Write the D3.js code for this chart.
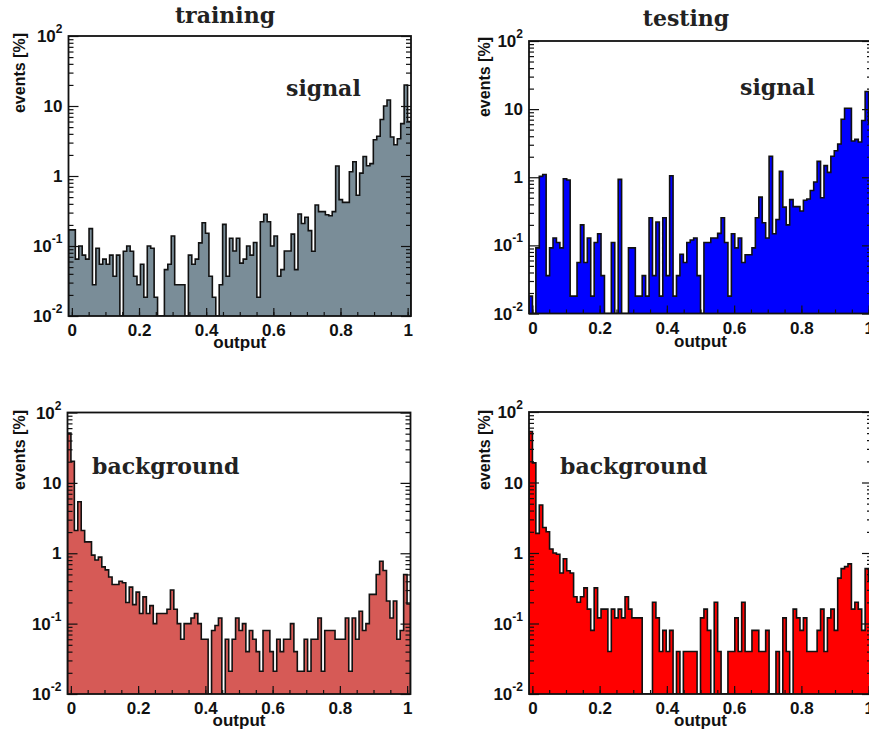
<!DOCTYPE html>
<html><head><meta charset="utf-8">
<script src="https://cdn.jsdelivr.net/npm/d3@7"></script>
<style>body{margin:0;background:#fff}</style>
</head><body>
<svg id="c" width="869" height="734"></svg>
<script>
// ---- data (percent of events per bin, 100 bins over the output range) ----
const trainSignal = [0.17,0.17,0.065,0.1,0.074,0.065,0.177,0.028,0.093,0.055,
 0.065,0.055,0.074,0.037,0.074,0,0.084,0.1,0.084,0.037,
 0.028,0.055,0.0185,0.1,0.093,0.0185,0,0,0.046,0.055,
 0.139,0.028,0.028,0.028,0,0.074,0.055,0.065,0.111,0.215,
 0.152,0.037,0.0185,0,0.028,0.204,0.037,0.129,0.085,0.129,
 0.057,0.065,0.1,0.074,0.112,0.0185,0.222,0.284,0.222,0.1,
 0.139,0.037,0.046,0.085,0.085,0.148,0.046,0.286,0.21,0.257,
 0.166,0.084,0.385,0.31,0.31,0.28,0.27,0.31,1.39,0.46,
 0.42,0.42,1.15,1.6,0.53,1.1,1.9,1.4,1.5,3.3,
 3.7,6.4,10,12.2,3.6,2.8,3.4,5.6,20,6];
const testSignal = [0.018,0,0.092,1.03,1.1,0.036,0.092,0.128,0.11,0.092,
 0.95,0.91,0.018,0.018,0.056,0.2,0.056,0.128,0.018,0.11,
 0.148,0.036,0,0,0.11,0,0.93,0,0,0.092,
 0.092,0.018,0.018,0.036,0.018,0.254,0.036,0.22,0.018,0.254,
 0.036,1.05,0.018,0.036,0.074,0.056,0.11,0.12,0.128,0.036,
 0,0.11,0.11,0.128,0.128,0.15,0.254,0.11,0.018,0.148,
 0.092,0.128,0.056,0.073,0.073,0.092,0.254,0.51,0.215,0.128,
 2.03,0.148,0.24,1.22,0.364,0.2,0.47,0.37,0.37,0.32,
 0.46,0.48,0.64,0.85,1.71,0.5,1.48,1.18,2.03,2.45,
 3.07,7.1,10.3,10.3,3.4,3.6,3.3,6.8,18.1,6.2];
const trainBackground = [51,20.3,2.1,5.4,2.1,1.45,1.45,0.94,0.8,0.88,
 0.64,0.58,0.46,0.36,0.36,0.4,0.38,0.2,0.33,0.186,
 0.28,0.139,0.24,0.139,0.18,0.1,0.139,0.139,0.139,0.16,
 0.3,0.16,0.1,0.06,0.1,0.1,0.12,0.139,0.1,0.06,
 0.06,0,0.08,0.094,0.12,0,0.06,0.021,0.06,0.12,
 0.08,0.1,0.04,0.08,0.06,0.04,0.021,0.08,0.08,0.04,
 0.021,0.06,0.04,0.06,0.06,0.1,0.04,0.021,0.021,0.06,
 0.021,0.06,0.06,0.12,0.021,0.08,0.08,0.08,0.06,0.06,
 0.06,0.12,0.021,0.12,0.06,0.15,0.08,0.1,0.26,0.26,
 0.5,0.77,0.57,0.21,0.12,0.21,0.06,0.08,0.5,0.19];
const testBackground = [53,19,1.9,4.8,2.3,2.0,1.14,1.0,0.96,0.52,
 0.83,0.56,0.52,0.24,0.2,0.24,0.32,0.16,0.08,0.32,
 0.12,0.16,0.16,0.04,0.16,0.12,0.16,0.12,0.24,0.16,
 0.12,0.12,0.12,0,0,0,0.2,0.12,0.04,0.08,
 0.04,0.08,0,0.04,0,0.04,0.04,0.04,0.04,0,
 0.12,0.16,0.08,0,0.2,0.04,0,0,0.04,0.04,
 0.12,0.04,0.2,0.04,0.04,0.08,0.08,0.04,0.04,0.08,
 0,0,0.04,0,0.12,0.04,0,0.16,0.12,0.08,
 0.12,0.04,0.04,0.04,0.08,0.16,0.04,0.12,0.16,0.08,
 0.44,0.6,0.64,0.7,0.16,0.2,0.16,0.08,0.6,0.4];
const xTicks = [0,0.2,0.4,0.6,0.8,1];
const xMinorTicks = d3.range(0,21).map(k=>k*0.05);
const yTicks = [0.01,0.1,1,10,100];
const yLabelParts = {0.01:["10","-2"],0.1:["10","-1"],1:["1",""],10:["10",""],100:["10","2"]};
const columnTitles = ["training","testing"];
const rowLabels = ["signal","background"];
const xTitle = "output";
const yTitle = "events [%]";

// ---- layout ----
const xDomain = [-0.01, 1.01];
const yDomain = [0.01, 100];
const panels = [
 {data:trainSignal, fill:"#7a8d98", left:68.5, right:411, top:36, bottom:316, tag:rowLabels[0], tagX:286, tagY:96, ytx:25, yte:33, xtY:348},
 {data:testSignal, fill:"#0000ff", left:529, right:872, top:41, bottom:313.5, tag:rowLabels[0], tagX:740, tagY:95, ytx:490, yte:37, xtY:347},
 {data:trainBackground, fill:"#d65a56", left:67.5, right:410.5, top:412.5, bottom:694, tag:rowLabels[1], tagX:92, tagY:474, ytx:25, yte:410, xtY:726},
 {data:testBackground, fill:"#ff0000", left:529, right:872, top:412, bottom:694, tag:rowLabels[1], tagX:560, tagY:474, ytx:490, yte:410, xtY:726}
];

const svg = d3.select("#c");
const sans = "'Liberation Sans', Arial, sans-serif";
const serif = "'DejaVu Serif', serif";

svg.append("text").attr("x",225).attr("y",23).attr("text-anchor","middle")
  .attr("font-family",serif).attr("font-weight","bold").attr("font-size",22).attr("fill","#222").text(columnTitles[0]);
svg.append("text").attr("x",686).attr("y",26).attr("text-anchor","middle")
  .attr("font-family",serif).attr("font-weight","bold").attr("font-size",22).attr("fill","#222").text(columnTitles[1]);

const minorY = [];
[0.01,0.1,1,10].forEach(d=>{for(let k=2;k<=9;k++) minorY.push(d*k);});

panels.forEach((p,pi)=>{
  const x = d3.scaleLinear().domain(xDomain).range([p.left,p.right]);
  const y = d3.scaleLog().domain(yDomain).range([p.bottom,p.top]).clamp(true);
  const g = svg.append("g");
  const clipId = "clip"+pi;
  g.append("clipPath").attr("id",clipId).append("rect")
    .attr("x",p.left).attr("y",p.top).attr("width",p.right-p.left).attr("height",p.bottom-p.top);

  const n = p.data.length;
  const bw = (xDomain[1]-xDomain[0])/n;
  const pts = [[xDomain[0], yDomain[0]]];
  p.data.forEach((v,i)=>{
    const vv = v>0 ? v : yDomain[0];
    pts.push([xDomain[0]+i*bw, vv]);
    pts.push([xDomain[0]+(i+1)*bw, vv]);
  });
  pts.push([xDomain[1], yDomain[0]]);
  const line = d3.line().x(d=>x(d[0])).y(d=>y(d[1]));
  g.append("path").attr("d",line(pts)+"Z").attr("fill",p.fill).attr("stroke","none").attr("clip-path",`url(#${clipId})`);
  g.append("path").attr("d",line(pts)).attr("fill","none").attr("stroke","#111").attr("stroke-width",1.6).attr("clip-path",`url(#${clipId})`);

  // axes
  const axL = g.append("g").attr("transform",`translate(${p.left},0)`)
    .call(d3.axisLeft(y).tickValues(yTicks).tickSizeInner(-10).tickSizeOuter(0).tickPadding(6).tickFormat(""));
  const axLm = g.append("g").attr("transform",`translate(${p.left},0)`)
    .call(d3.axisLeft(y).tickValues(minorY).tickSizeInner(-5).tickSizeOuter(0).tickFormat(""));
  const axR = g.append("g").attr("transform",`translate(${p.right},0)`)
    .call(d3.axisRight(y).tickValues(yTicks).tickSizeInner(-10).tickSizeOuter(0).tickFormat(""));
  const axRm = g.append("g").attr("transform",`translate(${p.right},0)`)
    .call(d3.axisRight(y).tickValues(minorY).tickSizeInner(-5).tickSizeOuter(0).tickFormat(""));
  const axB = g.append("g").attr("transform",`translate(0,${p.bottom})`)
    .call(d3.axisBottom(x).tickValues(xTicks).tickSizeInner(-8).tickSizeOuter(0).tickPadding(8).tickFormat(d3.format("~g")));
  const axBm = g.append("g").attr("transform",`translate(0,${p.bottom})`)
    .call(d3.axisBottom(x).tickValues(xMinorTicks).tickSizeInner(-4).tickSizeOuter(0).tickFormat(""));
  [axL,axLm,axR,axRm,axB,axBm].forEach(a=>{a.select(".domain").remove(); a.selectAll("line").attr("stroke","#111").attr("stroke-width",1.2);});
  axB.selectAll("text").attr("font-family",sans).attr("font-weight","bold").attr("font-size",17).attr("fill","#111");

  // y tick labels with superscripts
  const labs = g.append("g").attr("font-family",sans).attr("font-weight","bold").attr("fill","#111");
  yTicks.forEach(t=>{
    const [base,sup] = yLabelParts[t];
    const tx = labs.append("text").attr("x",p.left-6).attr("y",y(t)).attr("dy","0.36em").attr("text-anchor","end").attr("font-size",17);
    tx.append("tspan").text(base);
    if(sup) tx.append("tspan").attr("font-size",12).attr("dy","-0.75em").text(sup);
  });

  // frame
  g.append("rect").attr("x",p.left).attr("y",p.top).attr("width",p.right-p.left).attr("height",p.bottom-p.top)
    .attr("fill","none").attr("stroke","#111").attr("stroke-width",1.8);

  // titles
  g.append("text").attr("x",(p.left+p.right)/2).attr("y",p.xtY).attr("text-anchor","middle")
    .attr("font-family",sans).attr("font-weight","bold").attr("font-size",17).attr("fill","#111").text(xTitle);
  g.append("text").attr("transform",`translate(${p.ytx},${p.yte}) rotate(-90)`).attr("text-anchor","end")
    .attr("font-family",sans).attr("font-weight","bold").attr("font-size",16).attr("fill","#111").text(yTitle);
  g.append("text").attr("x",p.tagX).attr("y",p.tagY)
    .attr("font-family",serif).attr("font-weight","bold").attr("font-size",22).attr("fill","#222").text(p.tag);
});
</script>
</body></html>
